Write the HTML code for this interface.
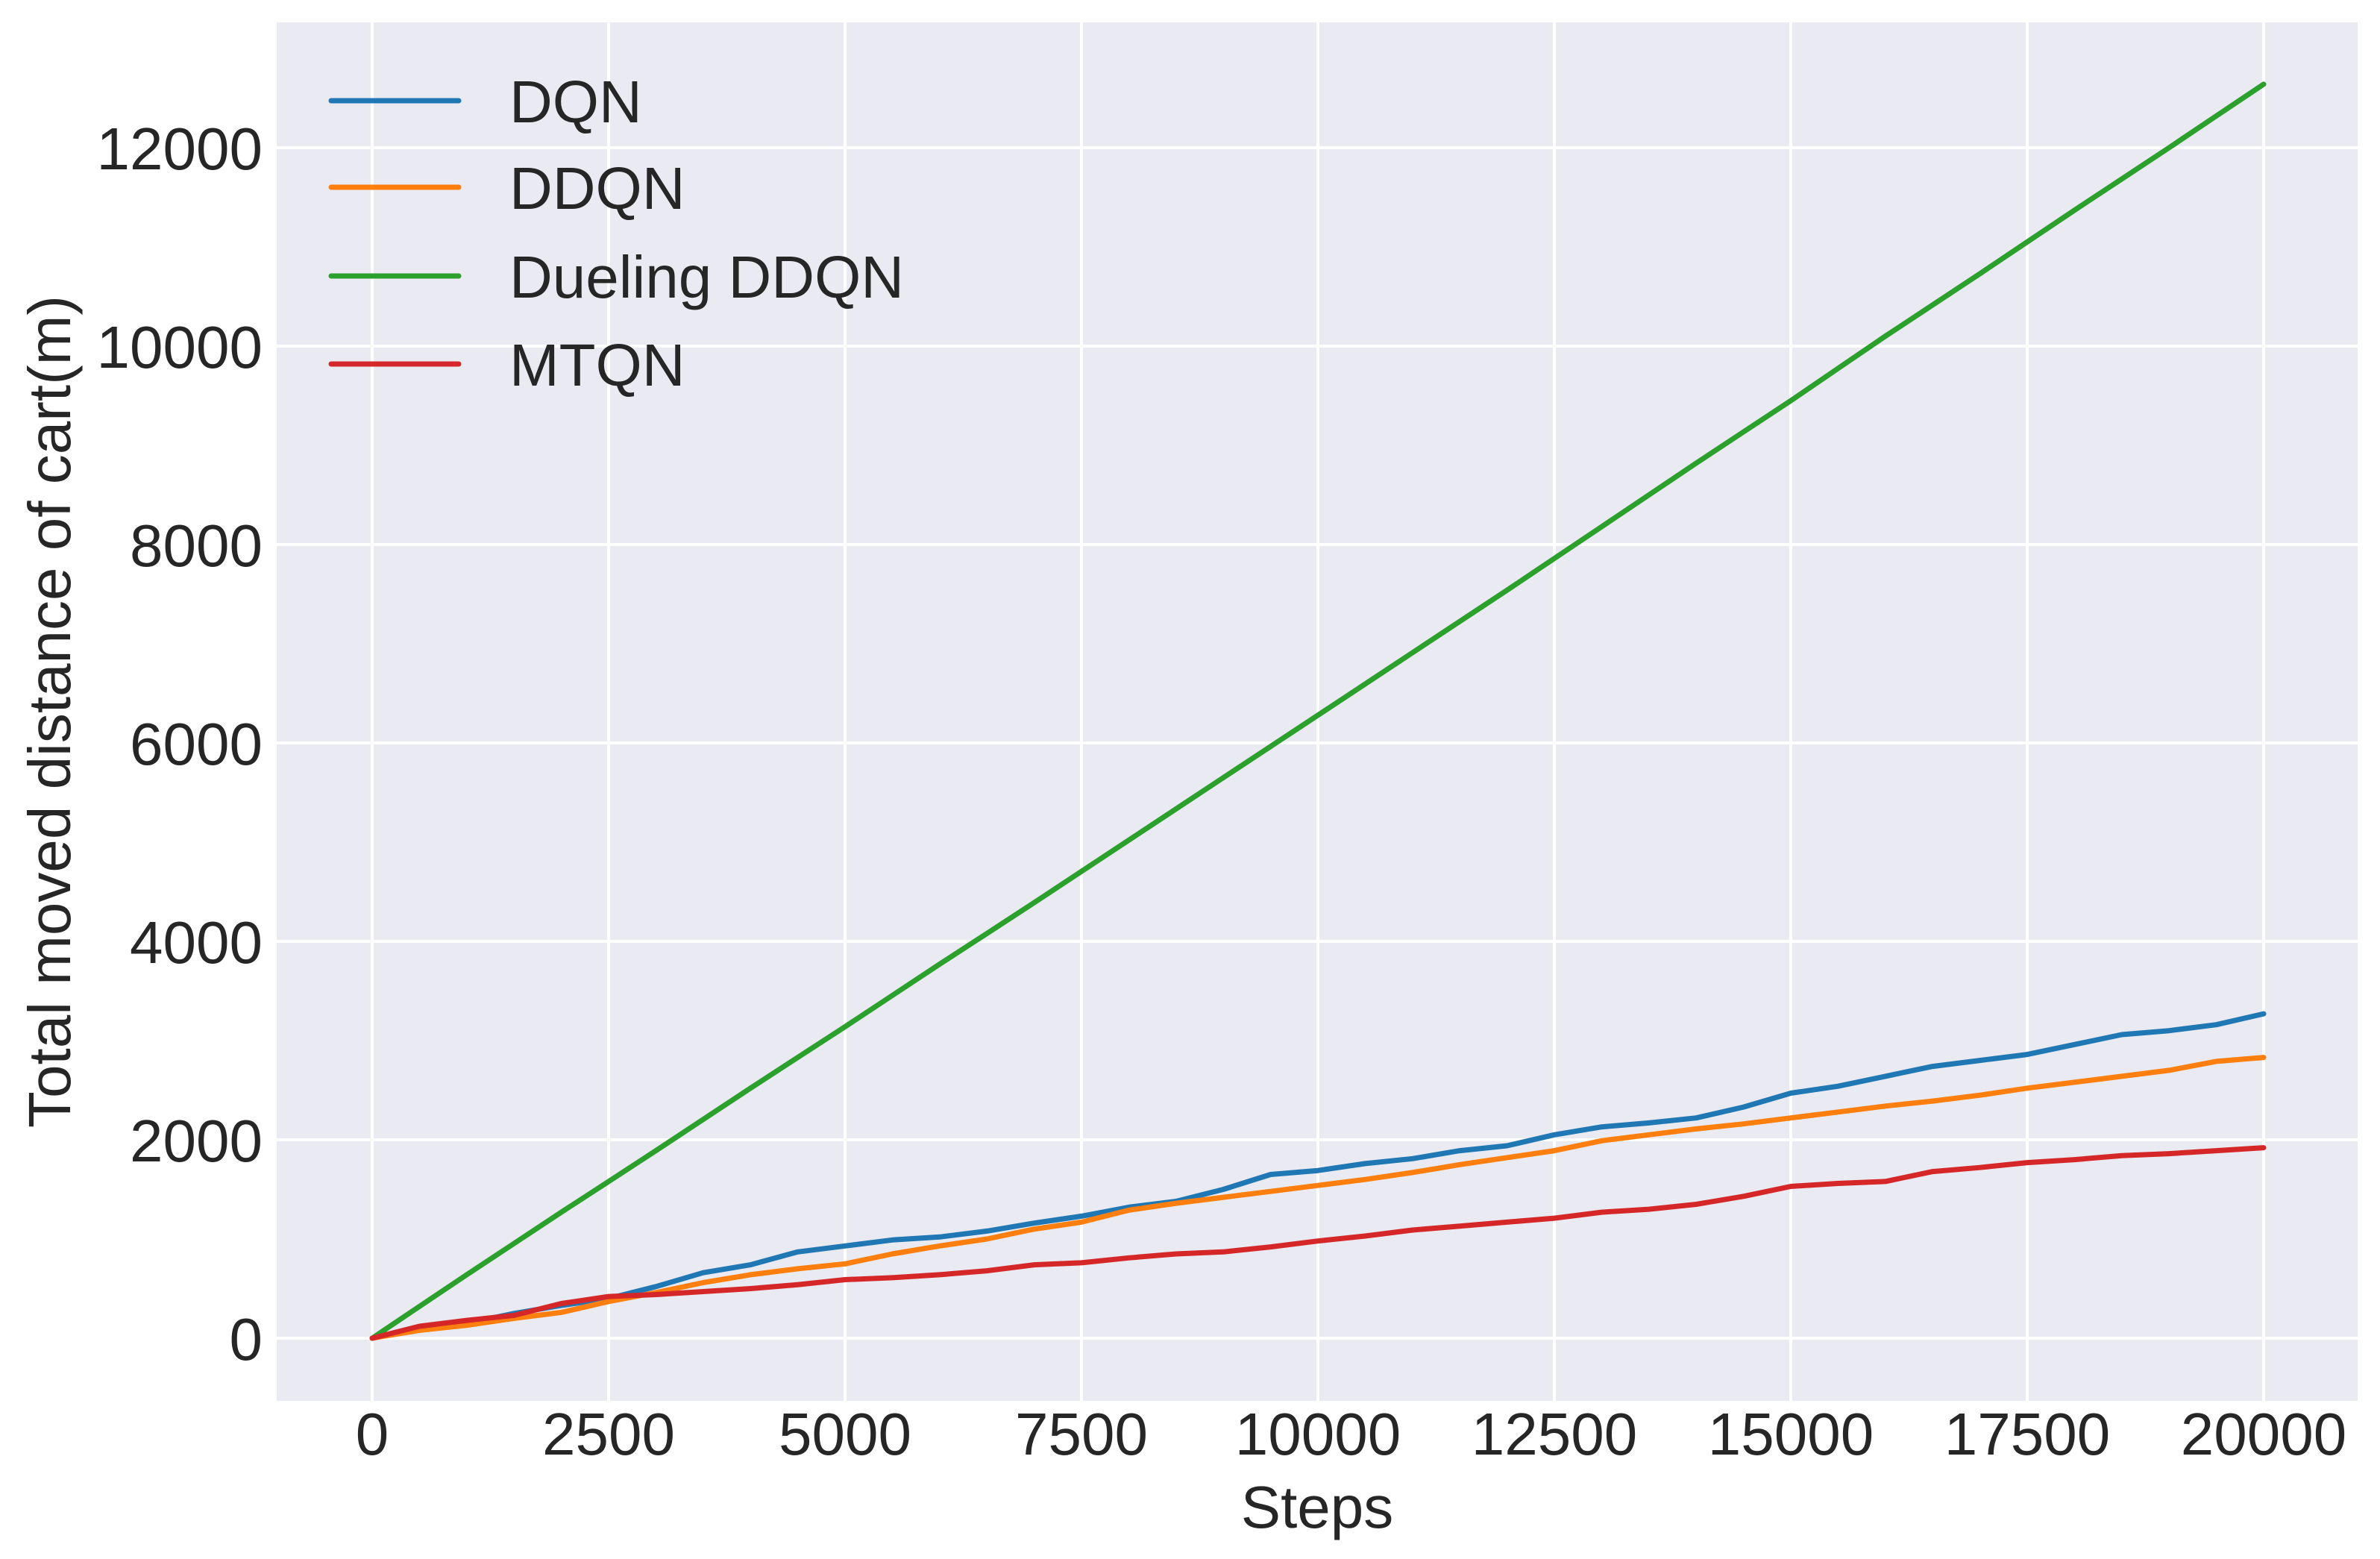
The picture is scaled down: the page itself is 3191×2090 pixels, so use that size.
<!DOCTYPE html>
<html><head><meta charset="utf-8"><style>
html,body{margin:0;padding:0;background:#fff;}
svg{display:block;font-family:"Liberation Sans",sans-serif;}
</style></head><body>
<svg id="chart" width="3191" height="2090" viewBox="0 0 3191 2090" xmlns="http://www.w3.org/2000/svg">
<rect x="371" y="30" width="2790" height="1848" fill="#eaeaf2"/>
<g id="grid"></g>
<g id="series"></g>
<g id="ticks" fill="#262626" font-size="80"></g>
<text x="1766" y="2048" text-anchor="middle" font-size="80" fill="#262626">Steps</text>
<text transform="translate(94,954) rotate(-90)" text-anchor="middle" font-size="80" fill="#262626">Total moved distance of cart(m)</text>
<g id="legend"></g>
</svg>
<script>
const steps = [0,500,1000,1500,2000,2500,3000,3500,4000,4500,5000,5500,6000,6500,7000,7500,8000,8500,9000,9500,10000,10500,11000,11500,12000,12500,13000,13500,14000,14500,15000,15500,16000,16500,17000,17500,18000,18500,19000,19500,20000];
const dqn = [0,100,150,250,330,400,520,660,740,870,930,990,1020,1080,1160,1230,1320,1380,1500,1650,1690,1760,1810,1890,1940,2050,2130,2170,2220,2330,2470,2540,2640,2740,2800,2860,2960,3060,3100,3160,3270];
const ddqn = [0,80,130,200,260,370,460,560,640,700,750,850,930,1000,1100,1170,1290,1360,1420,1480,1540,1600,1670,1750,1820,1890,1990,2050,2110,2160,2220,2280,2340,2390,2450,2520,2580,2640,2700,2790,2830];
const dueling = [0,320,640,955,1270,1580,1890,2205,2520,2830,3140,3455,3770,4080,4390,4705,5020,5335,5650,5965,6280,6595,6910,7225,7540,7860,8180,8500,8820,9135,9450,9775,10100,10415,10730,11050,11370,11685,12000,12320,12640];
const mtqn = [0,120,180,230,350,420,440,470,500,540,590,610,640,680,740,760,810,850,870,920,980,1030,1090,1130,1170,1210,1270,1300,1350,1430,1530,1560,1580,1680,1720,1770,1800,1840,1860,1890,1920];
const xTicks = [0,2500,5000,7500,10000,12500,15000,17500,20000];
const yTicks = [0,2000,4000,6000,8000,10000,12000];
const seriesNames = ["DQN","DDQN","Dueling DDQN","MTQN"];
const colors = ["#1f77b4","#ff7f0e","#2ca02c","#d62728"];

const NS="http://www.w3.org/2000/svg";
const X0=499,X1=3035,Y0=1794,Y1=198;
function xs(v){return X0+(X1-X0)*v/20000;}
function ys(v){return Y0+(Y1-Y0)*v/12000;}
function mk(tag,attrs,parent){const e=document.createElementNS(NS,tag);for(const k in attrs)e.setAttribute(k,attrs[k]);parent.appendChild(e);return e;}
const grid=document.getElementById('grid'),ticks=document.getElementById('ticks'),ser=document.getElementById('series'),leg=document.getElementById('legend');
xTicks.forEach(t=>{
  const l=mk('line',{x1:xs(t),x2:xs(t),y1:30,y2:1878,stroke:'#fff','stroke-width':4},grid);
  
  
  const tx=mk('text',{x:xs(t),y:1950,'text-anchor':'middle'},ticks);
  
  
  tx.textContent=t;
});
yTicks.forEach(t=>{
  const l=mk('line',{x1:371,x2:3161,y1:ys(t),y2:ys(t),stroke:'#fff','stroke-width':4},grid);
  
  
  const tx=mk('text',{x:352,y:ys(t)+29,'text-anchor':'end'},ticks);
  
  
  tx.textContent=t;
});
const all=[dqn,ddqn,dueling,mtqn];
const order=[2,0,1,3];
order.forEach(i=>{
  const d=all[i].map((v,j)=>(j?'L':'M')+xs(steps[j]).toFixed(1)+','+ys(v).toFixed(1)).join(' ');
  const p=mk('path',{d:d,fill:'none',stroke:colors[i],'stroke-width':7,'stroke-linejoin':'round','stroke-linecap':'round'},ser);
  
  
});
const rowsY=[135,251,370,488];
seriesNames.forEach((n,i)=>{
  const l=mk('line',{x1:444,x2:615,y1:rowsY[i],y2:rowsY[i],stroke:colors[i],'stroke-width':7,'stroke-linecap':'round'},leg);
  
  
  const t=mk('text',{x:683,y:rowsY[i]+29,'font-size':80,fill:'#262626'},leg);
  
  
  t.textContent=n;
});
</script>
</body></html>
